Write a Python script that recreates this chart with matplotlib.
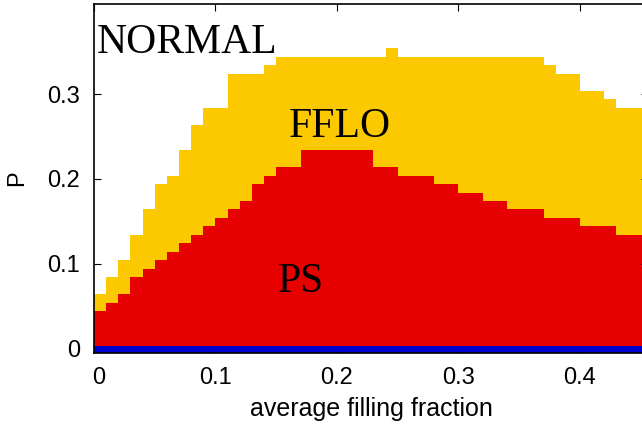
import numpy as np
import matplotlib
matplotlib.use('Agg')
import matplotlib.pyplot as plt
import matplotlib.transforms as mtransforms

# cell width 0.01 in filling fraction, 45 cells from 0 to 0.45
cell_width = 0.01
ffl_top = [0.064, 0.084, 0.104, 0.134, 0.164, 0.194, 0.204, 0.234, 0.264, 0.284,
           0.284, 0.324, 0.324, 0.324, 0.334, 0.344, 0.344, 0.344, 0.344, 0.344,
           0.344, 0.344, 0.344, 0.344, 0.354, 0.344, 0.344, 0.344, 0.344, 0.344,
           0.344, 0.344, 0.344, 0.344, 0.344, 0.344, 0.344, 0.334, 0.324, 0.324,
           0.304, 0.304, 0.294, 0.284, 0.284]
ps_top = [0.044, 0.054, 0.064, 0.084, 0.094, 0.104, 0.114, 0.124, 0.134, 0.144,
          0.154, 0.164, 0.174, 0.194, 0.204, 0.214, 0.214, 0.234, 0.234, 0.234,
          0.234, 0.234, 0.234, 0.214, 0.214, 0.204, 0.204, 0.204, 0.194, 0.194,
          0.184, 0.184, 0.174, 0.174, 0.164, 0.164, 0.164, 0.154, 0.154, 0.154,
          0.144, 0.144, 0.144, 0.134, 0.134]
blue_top = 0.0035

labels = ['NORMAL', 'FFLO', 'PS']
label_pos = [(0.0025, 0.3486), (0.1605, 0.2498), (0.1514, 0.0674)]

x = np.arange(len(ps_top) + 1) * cell_width
x[-1] = 0.47
yy = np.append(ffl_top, ffl_top[-1])
yr = np.append(ps_top, ps_top[-1])

fig = plt.figure(figsize=(6.42, 4.28), dpi=100)
ax = fig.add_axes([94 / 642, 75 / 428, 554 / 642, 349 / 428])

ymin = -0.005
ax.fill_between(x, ymin, yy, step='post', color='#FCC800', lw=0, zorder=1)
ax.fill_between(x, ymin, yr, step='post', color='#E60000', lw=0, zorder=2)
ax.fill_between(x, ymin, blue_top, color='#0000CC', lw=0, zorder=3)

for txt, (tx, ty) in zip(labels, label_pos):
    ax.text(tx, ty, txt, family='Liberation Serif', fontsize=30,
            ha='left', va='baseline', zorder=5)

ax.set_xlim(0, 0.456)
ax.set_ylim(ymin, 0.406)
ax.set_xticks([0, 0.1, 0.2, 0.3, 0.4])
ax.set_xticklabels(['0', '0.1', '0.2', '0.3', '0.4'])
ax.set_yticks([0, 0.1, 0.2, 0.3])
ax.set_yticklabels(['0', '0.1', '0.2', '0.3'])
ax.tick_params(direction='in', top=True, right=True, length=5, width=0.8,
               labelsize=17, pad=10)
for lbl in ax.get_xticklabels() + ax.get_yticklabels():
    lbl.set_family('Liberation Sans')
# the "0" label sits a bit right of its tick in the original
first = ax.get_xticklabels()[0]
first.set_transform(first.get_transform() +
                    mtransforms.ScaledTranslation(5 / 100, 0, fig.dpi_scale_trans))
for sp in ax.spines.values():
    sp.set_linewidth(1.2)
    sp.set_zorder(6)
ax.set_axisbelow(False)

ax.set_xlabel('average filling fraction', family='Liberation Sans', fontsize=18, labelpad=6)
ax.set_ylabel('P', family='Liberation Sans', fontsize=17, labelpad=14)

plt.savefig('out.png', dpi=100)
